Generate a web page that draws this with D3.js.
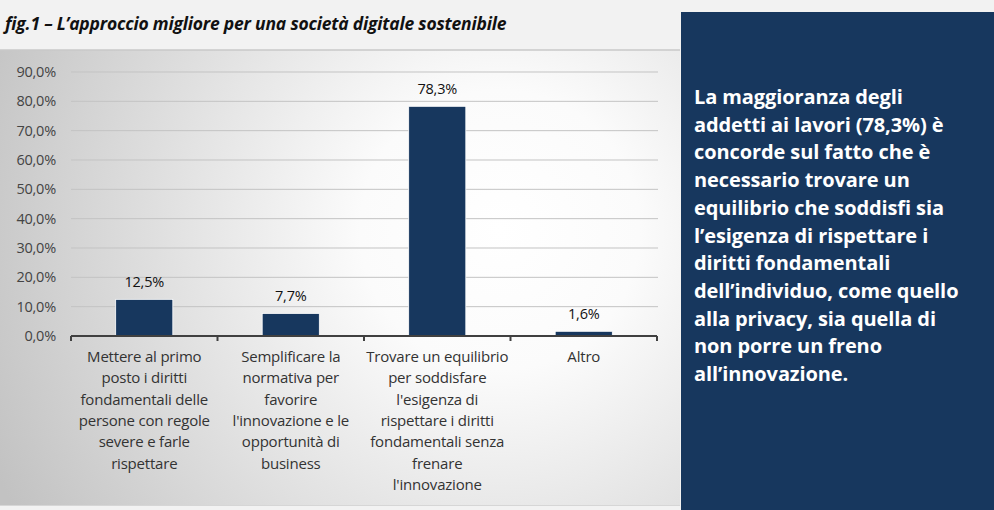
<!DOCTYPE html>
<html>
<head>
  <meta charset="utf-8">
  <title>fig.1</title>
  <script src="https://cdn.jsdelivr.net/npm/d3@7/dist/d3.min.js"></script>
  <style>
    body { margin: 0; background: #f2f2f2; }
    svg { display: block; font-family: "Open Sans", sans-serif; }
  </style>
</head>
<body>
<script>
  // data
  var categories = ["Mettere al primo posto", "Semplificare la normativa", "Trovare un equilibrio", "Altro"];
  var categoryLines = [
    ["Mettere al primo", "posto i diritti", "fondamentali delle", "persone con regole", "severe e farle", "rispettare"],
    ["Semplificare la", "normativa per", "favorire", "l'innovazione e le", "opportunità di", "business"],
    ["Trovare un equilibrio", "per soddisfare", "l'esigenza di", "rispettare i diritti", "fondamentali senza", "frenare", "l'innovazione"],
    ["Altro"]
  ];
  var values = [12.5, 7.7, 78.3, 1.6];
  var yTicks = [0, 10, 20, 30, 40, 50, 60, 70, 80, 90];
  var title = "fig.1 – L\u2019approccio migliore per una società digitale sostenibile";
  var noteLines = [
    "La maggioranza degli",
    "addetti ai lavori (78,3%) è",
    "concorde sul fatto che è",
    "necessario trovare un",
    "equilibrio che soddisfi sia",
    "l\u2019esigenza di rispettare i",
    "diritti fondamentali",
    "dell\u2019individuo, come quello",
    "alla privacy, sia quella di",
    "non porre un freno",
    "all\u2019innovazione."
  ];

  var W = 994, H = 510;
  var svg = d3.select("body").append("svg").attr("width", W).attr("height", H);

  var defs = svg.append("defs");
  var grad = defs.append("radialGradient").attr("id", "bg")
    .attr("gradientUnits", "userSpaceOnUse")
    .attr("cx", 500).attr("cy", 230).attr("r", 560);
  grad.append("stop").attr("offset", "0%").attr("stop-color", "#ffffff");
  grad.append("stop").attr("offset", "25%").attr("stop-color", "#fbfbfb");
  grad.append("stop").attr("offset", "100%").attr("stop-color", "#c2c2c2");

  // title strip
  svg.append("rect").attr("width", W).attr("height", H).attr("fill", "#f2f2f2");
  svg.append("text")
    .attr("x", 5).attr("y", 30)
    .attr("font-size", 17.5).attr("font-weight", "bold").attr("font-style", "italic")
    .attr("fill", "#111")
    .attr("letter-spacing", -0.2)
    .text(title);

  // chart panel
  svg.append("rect").attr("x", 0).attr("y", 50).attr("width", 680).attr("height", 456)
    .attr("fill", "url(#bg)");
  svg.append("line").attr("x1", 0).attr("x2", 680).attr("y1", 50).attr("y2", 50)
    .attr("stroke", "#c9c9c9").attr("stroke-width", 1.5);
  svg.append("line").attr("x1", 0).attr("x2", 680).attr("y1", 505.5).attr("y2", 505.5)
    .attr("stroke", "#d6d6d6").attr("stroke-width", 1);

  var x = d3.scaleBand().domain(categories).range([71, 657]).padding(0);
  var y = d3.scaleLinear().domain([0, 90]).range([336, 72]);
  var barW = x.bandwidth() * 0.39;

  // gridlines
  svg.append("g").selectAll("line").data(yTicks.filter(function(d) { return d > 0; }))
    .enter().append("line")
    .attr("x1", 71).attr("x2", 658)
    .attr("y1", function(d) { return y(d); }).attr("y2", function(d) { return y(d); })
    .attr("stroke", "#c3c3c3").attr("stroke-width", 1);

  // y axis labels
  var yAxis = d3.axisLeft(y).tickValues(yTicks).tickSize(0).tickPadding(0)
    .tickFormat(function(d) { return d.toFixed(1).replace(".", ",") + "%"; });
  var ya = svg.append("g").attr("transform", "translate(56,0)").call(yAxis);
  ya.select(".domain").remove();
  ya.selectAll("text").attr("font-size", 14.5).attr("fill", "#444")
    .attr("font-family", "'Open Sans', sans-serif").attr("letter-spacing", -0.2);

  // bars
  svg.append("g").selectAll("rect").data(values).enter().append("rect")
    .attr("x", function(d, i) { return x(categories[i]) + (x.bandwidth() - barW) / 2; })
    .attr("y", function(d) { return y(d); })
    .attr("width", barW)
    .attr("height", function(d) { return y(0) - y(d); })
    .attr("fill", "#17375e")
    .attr("stroke", "#ffffff").attr("stroke-width", 0.8);

  // value labels
  svg.append("g").selectAll("text").data(values).enter().append("text")
    .attr("x", function(d, i) { return x(categories[i]) + x.bandwidth() / 2; })
    .attr("y", function(d) { return y(d) - 12; })
    .attr("text-anchor", "middle")
    .attr("font-size", 14.5).attr("fill", "#111").attr("letter-spacing", -0.2)
    .text(function(d) { return d.toFixed(1).replace(".", ",") + "%"; });

  // x axis line with boundary ticks
  var xa = svg.append("g");
  xa.append("line").attr("x1", 71).attr("x2", 657).attr("y1", y(0)).attr("y2", y(0))
    .attr("stroke", "#404040").attr("stroke-width", 2);
  var bounds = categories.map(function(c) { return x(c); }).concat([x.range()[1]]);
  xa.selectAll("line.tk").data(bounds).enter().append("line").attr("class", "tk")
    .attr("x1", function(d) { return d; }).attr("x2", function(d) { return d; })
    .attr("y1", y(0)).attr("y2", y(0) + 5)
    .attr("stroke", "#404040").attr("stroke-width", 2);

  // category labels
  var cl = svg.append("g").selectAll("text").data(categoryLines).enter().append("text")
    .attr("text-anchor", "middle").attr("font-size", 15).attr("fill", "#333")
    .attr("letter-spacing", -0.2)
    .attr("x", function(d, i) { return x(categories[i]) + x.bandwidth() / 2; })
    .attr("y", 362);
  cl.selectAll("tspan").data(function(d) { return d; }).enter().append("tspan")
    .attr("x", function() { return d3.select(this.parentNode).attr("x"); })
    .attr("dy", function(d, i) { return i === 0 ? 0 : 21.3; })
    .text(function(d) { return d; });

  // note box
  svg.append("rect").attr("x", 681).attr("y", 12).attr("width", W - 681).attr("height", H - 12)
    .attr("fill", "#17375e");
  svg.append("text").attr("x", 694).attr("y", 104)
    .attr("font-size", 20).attr("font-weight", "bold").attr("fill", "#ffffff")
    .attr("letter-spacing", -0.1)
    .selectAll("tspan").data(noteLines).enter().append("tspan")
    .attr("x", 694)
    .attr("dy", function(d, i) { return i === 0 ? 0 : 27.7; })
    .text(function(d) { return d; });
</script>
</body>
</html>
